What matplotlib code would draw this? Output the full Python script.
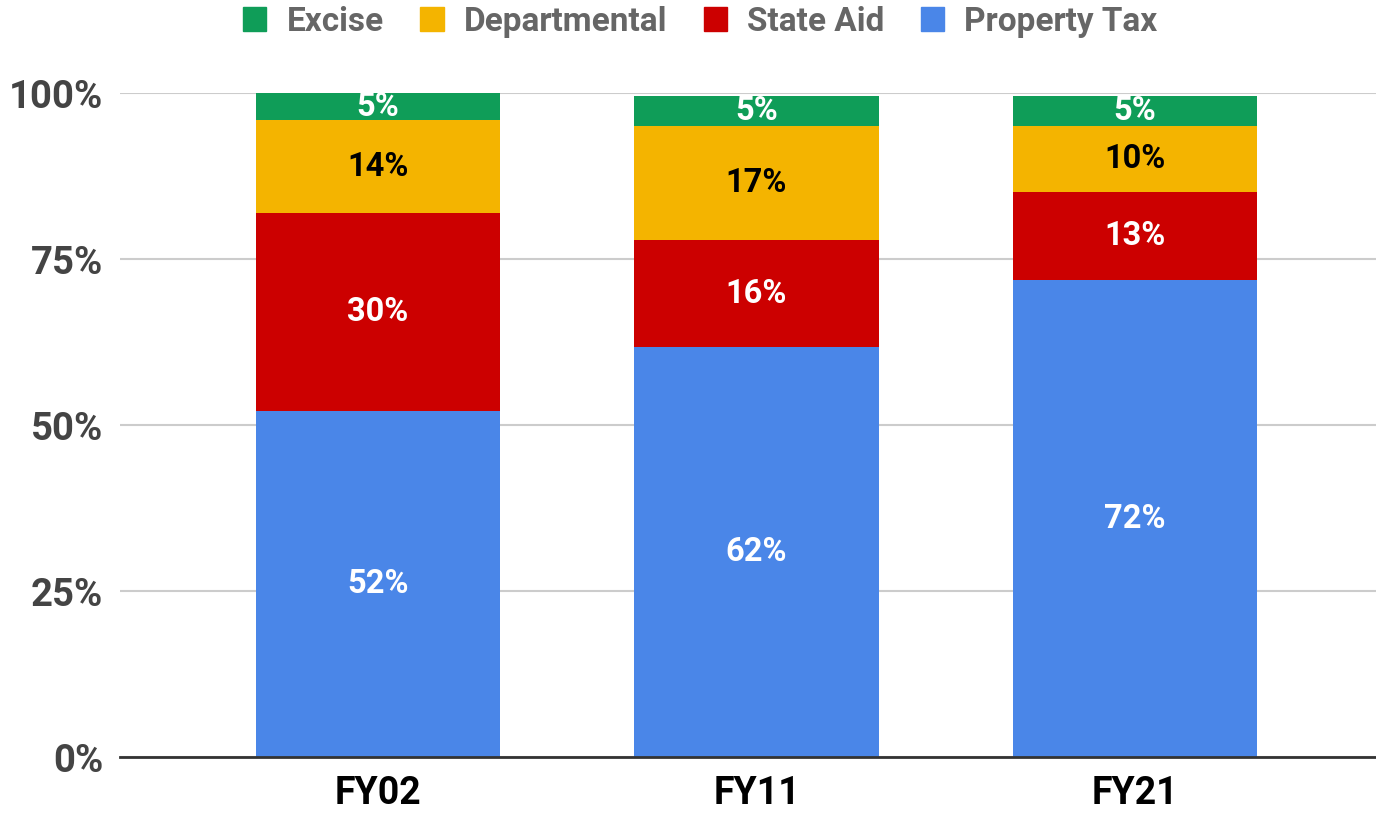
import matplotlib
matplotlib.use("Agg")
import matplotlib.pyplot as plt
from matplotlib.patches import Patch

plt.rcParams['font.family'] = ['Roboto', 'DejaVu Sans']

years = ["FY02", "FY11", "FY21"]
property_tax = [52.1, 61.7, 71.8]
state_aid = [29.8, 16.2, 13.3]
departmental = [14.0, 17.1, 9.9]
excise = [5.0, 4.6, 4.6]

series = [
    ("Property Tax", property_tax, "#4A86E8", "white"),
    ("State Aid", state_aid, "#CC0000", "white"),
    ("Departmental", departmental, "#F4B400", "black"),
    ("Excise", excise, "#0F9D58", "white"),
]

fig = plt.figure(figsize=(13.76, 8.14), dpi=100)
ax = fig.add_axes([0.0872, 0.0700, 0.9128, 0.8157])

x = list(range(len(years)))
bottoms = [0.0] * len(years)
for name, vals, color, tcolor in series:
    ax.bar(x, vals, bottom=bottoms, width=0.647, color=color, zorder=3, label=name)
    for i, v in enumerate(vals):
        top = min(bottoms[i] + v, 100.0)
        ymid = (bottoms[i] + top) / 2
        ax.text(x[i], ymid, f"{int(v + 0.5)}%", ha="center", va="center",
                color=tcolor, fontsize=23.5, fontweight="bold", zorder=5, clip_on=False)
    bottoms = [b + v for b, v in zip(bottoms, vals)]

ax.set_xlim(-0.682, 2.637)
ax.set_ylim(0, 100)
ax.set_yticks([0, 25, 50, 75, 100])
ax.set_yticklabels(["0%", "25%", "50%", "75%", "100%"])
ax.set_xticks(x)
ax.set_xticklabels(years)
for lab in ax.get_yticklabels():
    lab.set_fontsize(27.5)
    lab.set_fontweight("bold")
    lab.set_color("#444444")
for lab in ax.get_xticklabels():
    lab.set_fontsize(27)
    lab.set_fontweight("bold")
    lab.set_color("black")
ax.tick_params(axis="both", length=0)
ax.tick_params(axis="y", pad=12)
ax.tick_params(axis="x", pad=13)
ax.grid(axis="y", color="#CCCCCC", linewidth=1.5, zorder=0)
for s in ["top", "right", "left"]:
    ax.spines[s].set_visible(False)
ax.spines["bottom"].set_color("#333333")
ax.spines["bottom"].set_linewidth(2)
ax.spines["bottom"].set_zorder(4)

handles = [Patch(facecolor=c, edgecolor=c, label=n) for n, _, c, _ in reversed(series)]
leg = fig.legend(handles=handles, loc="upper center", bbox_to_anchor=(0.509, 1.03), ncol=4,
                 frameon=False, fontsize=24, handlelength=0.7, handleheight=0.7,
                 handletextpad=0.6, columnspacing=1.1)
for t in leg.get_texts():
    t.set_color("#666666")
    t.set_fontweight("bold")

fig.savefig("out.png", dpi=100)
